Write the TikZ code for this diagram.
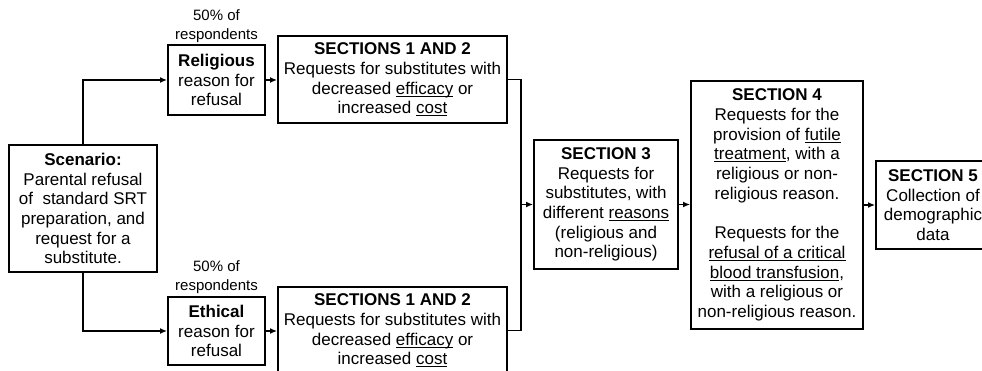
\documentclass[tikz,border=0pt]{standalone}
\usepackage{fontspec}
\setmainfont{Liberation Sans}
\usetikzlibrary{arrows.meta}
\newcommand{\myul}[1]{\setbox0\hbox{#1}\rlap{\rule[-2.4pt]{\wd0}{0.9pt}}\box0\relax}
\begin{document}
\begin{tikzpicture}[x=1pt,y=-1pt,
  box/.style={draw, line width=1.9pt, align=center, inner sep=0pt, font=\fontsize{17}{19.7}\selectfont},
  conn/.style={line width=1.6pt},
  arr/.style={conn,-{Latex[length=7pt,width=6pt]}},
  lbl/.style={align=center, inner sep=0pt, font=\fontsize{15}{18.8}\selectfont}]
\useasboundingbox (0,0) rectangle (982,371);
% nodes
\node[box, minimum width=148pt, minimum height=127pt] (scen) at (83,208.5)
  {\textbf{Scenario:}\\Parental refusal\\of\ \ standard SRT\\preparation, and\\request for a\\substitute.};
\node[box, minimum width=97pt, minimum height=70pt] (rel) at (216.5,80)
  {\textbf{Religious}\\reason for\\refusal};
\node[box, minimum width=97pt, minimum height=68pt] (eth) at (216.5,331)
  {\textbf{Ethical}\\reason for\\refusal};
\node[lbl, anchor=south] (labr) at (216.5,42.5) {50\% of\\respondents};
\node[lbl, anchor=south] (labe) at (216.5,293.5) {50\% of\\respondents};
\node[box, minimum width=229pt, minimum height=87pt] (sa) at (392.5,79.5)
  {\textbf{SECTIONS 1 AND 2}\\Requests for substitutes with\\decreased \myul{efficacy} or\\increased \myul{cost}};
\node[box, minimum width=229pt, minimum height=87pt] (sb) at (392.5,330.5)
  {\textbf{SECTIONS 1 AND 2}\\Requests for substitutes with\\decreased \myul{efficacy} or\\increased \myul{cost}};
\node[box, minimum width=144pt, minimum height=129pt] (s3) at (606,204.5)
  {\textbf{SECTION 3}\\Requests for\\substitutes, with\\different \myul{reasons}\\(religious and\\non-religious)};
\node[box, minimum width=172pt, minimum height=248pt] (s4) at (777,205)
  {\textbf{SECTION 4}\\Requests for the\\provision of \myul{futile}\\\myul{treatment}, with a\\religious or non-\\religious reason.\\[19.7pt]Requests for the\\\myul{refusal of a critical}\\\myul{blood transfusion},\\with a religious or\\non-religious reason.};
\node[box, minimum width=114pt, minimum height=88pt] (s5) at (933,205)
  {\textbf{SECTION 5}\\Collection of\\demographic\\data};
% connectors
\coordinate (j) at (521,204.5);
\draw[arr] (scen.north) |- (rel.west);
\draw[arr] (scen.south) |- (eth.west);
\draw[arr] (rel.east) -- (sa.west |- rel.east);
\draw[arr] (eth.east) -- (sb.west |- eth.east);
\draw[conn] (sa.east) -| (j) |- (sb.east);
\draw[arr] (j) -- (s3.west);
\draw[arr] (s3.east) -- (s3.east -| s4.west);
\draw[arr] (s4.east) -- (s4.east -| s5.west);
\end{tikzpicture}
\end{document}
